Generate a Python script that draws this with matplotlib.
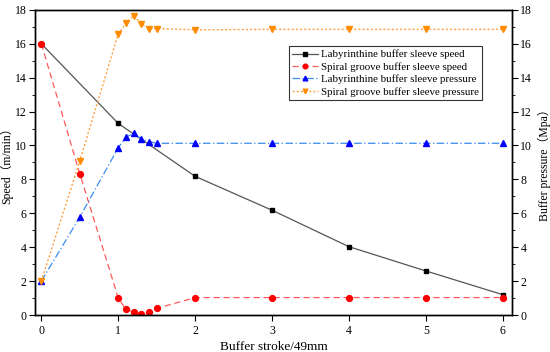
import matplotlib
matplotlib.use("Agg")
import matplotlib.pyplot as plt
from matplotlib.ticker import MultipleLocator

plt.rcParams['font.family'] = ['Liberation Serif', 'Noto Sans CJK SC']
plt.rcParams['font.size'] = 9

# data
lab_speed_x = [0, 1, 2, 3, 4, 5, 6]
lab_speed_y = [16.0, 11.3, 8.18, 6.18, 4.03, 2.6, 1.2]

dense_x = [0, 0.5, 1, 1.1, 1.2, 1.3, 1.4, 1.5, 2, 3, 4, 5, 6]
spiral_speed_y = [16.0, 8.33, 1.0, 0.33, 0.18, 0.08, 0.18, 0.39, 1.03, 1.03, 1.03, 1.03, 1.03]
lab_pressure_y = [2.0, 5.78, 9.87, 10.49, 10.72, 10.39, 10.23, 10.13, 10.13, 10.13, 10.13, 10.13, 10.13]
spiral_pressure_y = [2.0, 9.1, 16.58, 17.2, 17.66, 17.17, 16.9, 16.9, 16.82, 16.85, 16.85, 16.85, 16.85]

labels = ['Labyrinthine buffer sleeve speed', 'Spiral groove buffer sleeve speed',
          'Labyrinthine buffer sleeve pressure', 'Spiral groove buffer sleeve pressure']

fig = plt.figure(figsize=(5.5, 3.52), dpi=100)
ax1 = fig.add_axes([0.064, 0.105, 0.867, 0.867])
ax2 = ax1.twinx()

h1, = ax1.plot(lab_speed_x, lab_speed_y, color='#555555', lw=0.9, ls='-',
               marker='s', ms=3.5, mfc='black', mec='black', label=labels[0])
h2, = ax1.plot(dense_x, spiral_speed_y, color='#ff5a5a', lw=0.9, ls=(0, (5, 3)),
               marker='o', ms=4.2, mfc='red', mec='red', label=labels[1])
h3, = ax2.plot(dense_x, lab_pressure_y, color='#3a8cf0', lw=0.9, ls=(0, (6, 2, 1, 2)),
               marker='^', ms=4.2, mfc='#0000ff', mec='#0000ff', label=labels[2])
h4, = ax2.plot(dense_x, spiral_pressure_y, color='#ffa040', lw=1.0, ls=(0, (1.5, 1.5)),
               marker='v', ms=4.2, mfc='#ff8c00', mec='#ff8c00', label=labels[3])

for ax in (ax1, ax2):
    ax.set_ylim(0, 18)
    ax.yaxis.set_major_locator(MultipleLocator(2))
    ax.yaxis.set_minor_locator(MultipleLocator(1))
    ax.tick_params(which='both', direction='out', labelsize=8.5, pad=2)
    ax.tick_params(which='major', length=4)
    ax.tick_params(which='minor', length=2)
    for s in ax.spines.values():
        s.set_linewidth(1.0)

ax1.set_xlim(-0.08, 6.12)
ax1.set_xticks(range(0, 7))
ax1.tick_params(axis='x', pad=3)
ax1.set_xlabel('Buffer stroke/49mm', fontsize=9.5, labelpad=3)
ax1.set_ylabel('Speed（m/min）', fontsize=8.5, labelpad=1)
ax2.set_ylabel('Buffer pressure（Mpa）', fontsize=8.5, labelpad=4)

leg = ax1.legend(handles=[h1, h2, h3, h4], loc='upper right',
                 bbox_to_anchor=(0.938, 0.88), fontsize=7.8, frameon=True,
                 fancybox=False, handlelength=2.4, borderpad=0.3,
                 labelspacing=0.25, handletextpad=0.3, borderaxespad=0,
                 markerscale=0.8)
leg.get_frame().set_edgecolor('black')
leg.get_frame().set_linewidth(0.8)

fig.savefig('out.png', dpi=100)
